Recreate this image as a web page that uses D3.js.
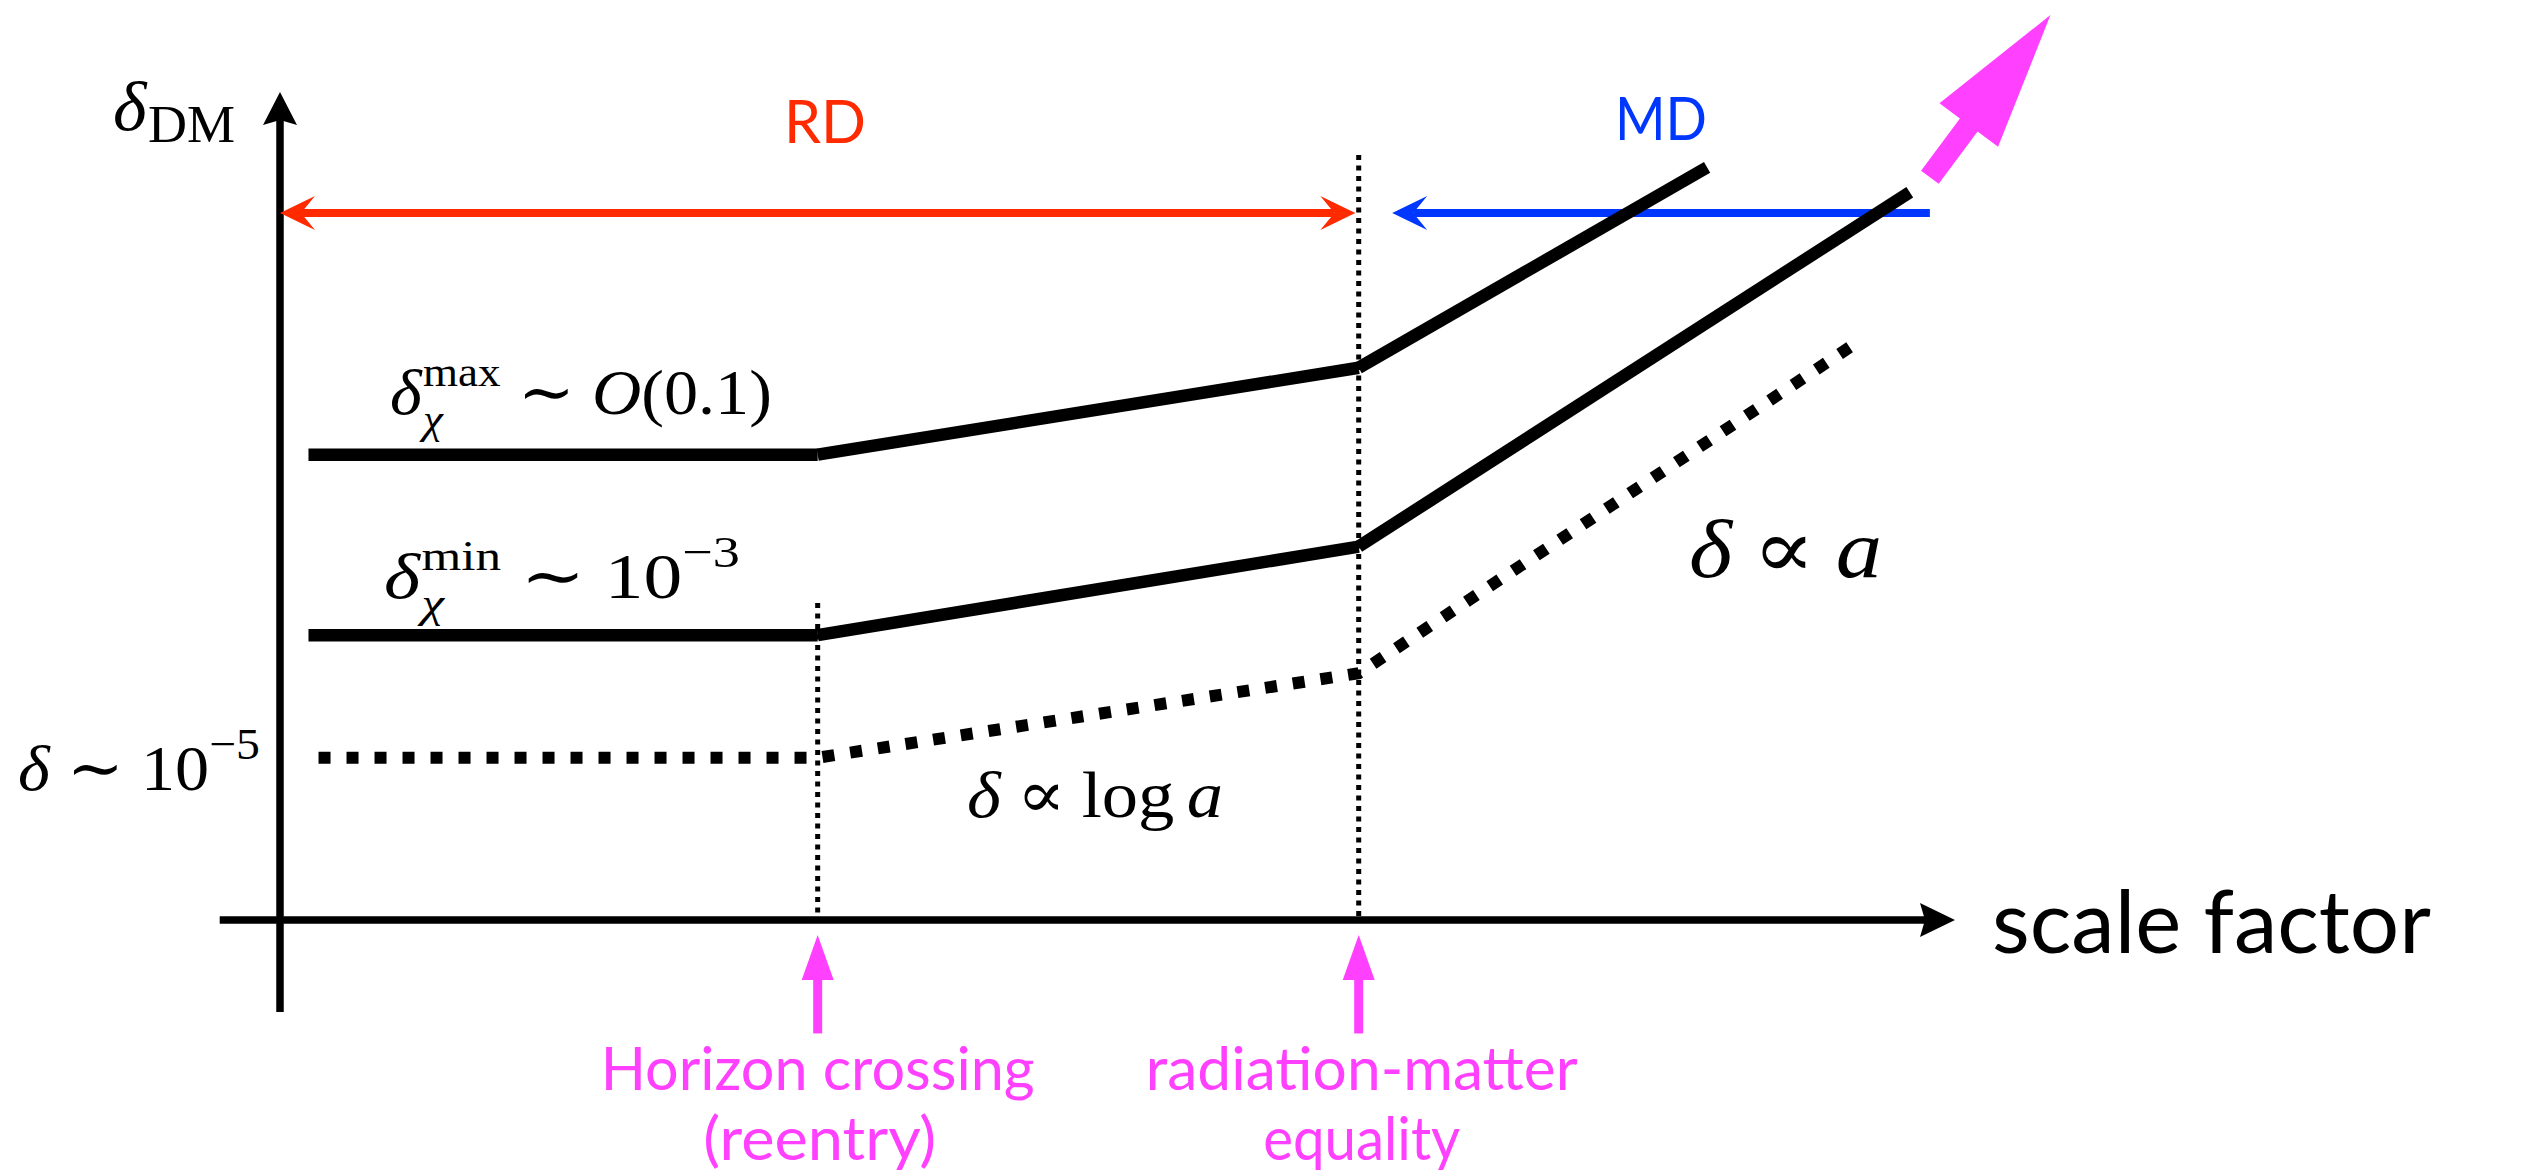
<!DOCTYPE html>
<html>
<head>
<meta charset="utf-8">
<script src="https://cdn.jsdelivr.net/npm/d3@7"></script>
<style>
  html, body { margin: 0; padding: 0; background: #fff; overflow: hidden; }
  text { font-kerning: normal; }
</style>
</head>
<body>
<svg id="chart" width="2531" height="1176"></svg>
<script>
// ---- data (schematic units: x = log scale factor, y = log density contrast) ----
const epochNames = ["Horizon crossing", "radiation-matter equality"];
const epochX = [3.21, 6.44];
const epochTop = [3.83, 9.24];

const maxTrackX = [0.17, 3.21, 6.44, 8.52];
const maxTrackY = [5.62, 5.62, 6.67, 9.09];
const minTrackX = [0.17, 3.21, 6.44, 9.73];
const minTrackY = [3.44, 3.44, 4.51, 8.79];
const adiTrackX = [0.23, 3.21, 6.44, 9.44];
const adiTrackY = [1.96, 1.96, 2.98, 7.01];

const eraNames = ["RD", "MD"];
const eraLevel = 8.54;
const rdSpan = [0, 6.42];     // double-headed
const mdSpan = [9.85, 6.64];  // tail -> head

const xAxisSpan = [-0.36, 10];
const yAxisSpan = [-1.11, 10];

const growthTail = [9.85, 8.97];
const growthTip = [10.57, 10.93];
const pointerSpan = [-1.37, -0.18]; // tail -> tip, at each epoch

// ---- colours ----
const RED = "#ff2a00", BLUE = "#0037ff", PINK = "#ff40ff", INK = "#000";

const svg = d3.select("#chart");
const x = d3.scaleLinear().domain([0, 10]).range([280, 1955]);
const y = d3.scaleLinear().domain([0, 10]).range([920, 92]);

svg.append("rect").attr("width", 2531).attr("height", 1176).attr("fill", "#fff");

// stealth arrow head, tip at (tx,ty), pointing along ang
function head(tx, ty, ang, len, half, inset) {
  const ux = Math.cos(ang), uy = Math.sin(ang);
  const px = -uy, py = ux;
  const bx = tx - ux * len, by = ty - uy * len;
  const nx = tx - ux * (len - inset), ny = ty - uy * (len - inset);
  return `M${tx},${ty}L${bx + px * half},${by + py * half}L${nx},${ny}L${bx - px * half},${by - py * half}Z`;
}
function arrowLine(g, x0, y0, x1, y1, color, width, len, half, inset, both) {
  const ang = Math.atan2(y1 - y0, x1 - x0);
  const L = Math.hypot(x1 - x0, y1 - y0);
  const ux = (x1 - x0) / L, uy = (y1 - y0) / L;
  const back = len - inset;
  const sx = both ? x0 + ux * back : x0, sy = both ? y0 + uy * back : y0;
  g.append("line").attr("x1", sx).attr("y1", sy)
    .attr("x2", x1 - ux * back).attr("y2", y1 - uy * back)
    .attr("stroke", color).attr("stroke-width", width);
  g.append("path").attr("d", head(x1, y1, ang, len, half, inset)).attr("fill", color);
  if (both) g.append("path").attr("d", head(x0, y0, ang + Math.PI, len, half, inset)).attr("fill", color);
}

// ---- axes ----
const axes = svg.append("g");
arrowLine(axes, x(xAxisSpan[0]), y(0), x(xAxisSpan[1]), y(0), INK, 7.5, 35, 17, 5, false);
arrowLine(axes, x(0), y(yAxisSpan[0]), x(0), y(yAxisSpan[1]), INK, 7.5, 33, 17, 5, false);

// ---- epoch markers (thin dotted verticals) ----
epochX.forEach((ex, i) => {
  svg.append("line")
    .attr("x1", x(ex)).attr("x2", x(ex))
    .attr("y1", y(epochTop[i])).attr("y2", y(0))
    .attr("stroke", INK).attr("stroke-width", 5)
    .attr("stroke-dasharray", "5,5.5");
});

// ---- era arrows ----
const eras = svg.append("g");
arrowLine(eras, x(rdSpan[0]), y(eraLevel), x(rdSpan[1]), y(eraLevel), RED, 8, 35, 17, 14, true);
arrowLine(eras, x(mdSpan[0]), y(eraLevel), x(mdSpan[1]), y(eraLevel), BLUE, 8, 35, 17, 14, false);

// ---- growth tracks (segment by segment, butt ends) ----
function track(xs, ys, dashed) {
  const pts = xs.map((v, i) => [x(v), y(ys[i])]);
  if (dashed) {
    svg.append("path").attr("d", d3.line()(pts))
      .attr("fill", "none").attr("stroke", INK).attr("stroke-width", 12)
      .attr("stroke-dasharray", "12,16").attr("stroke-linejoin", "miter");
    return;
  }
  for (let i = 0; i < pts.length - 1; i++) {
    svg.append("path").attr("d", d3.line()([pts[i], pts[i + 1]]))
      .attr("fill", "none").attr("stroke", INK).attr("stroke-width", 12.5)
      .attr("stroke-linecap", "butt");
  }
}
track(maxTrackX, maxTrackY, false);
track(minTrackX, minTrackY, false);
track(adiTrackX, adiTrackY, true);

// ---- growth arrow (block arrow) ----
(function () {
  const tx0 = x(growthTail[0]), ty0 = y(growthTail[1]);
  const tx1 = x(growthTip[0]), ty1 = y(growthTip[1]);
  const L = Math.hypot(tx1 - tx0, ty1 - ty0);
  const ux = (tx1 - tx0) / L, uy = (ty1 - ty0) / L, px = -uy, py = ux;
  const hl = 137, hw = 36.5, sw = 11;
  const bx = tx1 - ux * hl, by = ty1 - uy * hl;
  const p = [
    [tx0 + px * sw, ty0 + py * sw], [bx + px * sw, by + py * sw],
    [bx + px * hw, by + py * hw], [tx1, ty1],
    [bx - px * hw, by - py * hw], [bx - px * sw, by - py * sw],
    [tx0 - px * sw, ty0 - py * sw]
  ];
  svg.append("path").attr("d", "M" + p.map(q => q.join(",")).join("L") + "Z").attr("fill", PINK);
})();

// ---- epoch pointer arrows ----
epochX.forEach(ex => {
  arrowLine(svg, x(ex), y(pointerSpan[0]), x(ex), y(pointerSpan[1]), PINK, 9, 45, 16, 0, false);
});

// ---- sans labels ----
const SANS = "Lato, 'Open Sans', sans-serif";
function sans(txt, cx, base, size, color, width, anchor) {
  const t = svg.append("text").attr("x", cx).attr("y", base)
    .attr("font-family", SANS).attr("font-size", size).attr("fill", color)
    .attr("text-anchor", anchor || "middle").text(txt);
  if (width) t.attr("textLength", width).attr("lengthAdjust", "spacingAndGlyphs");
  return t;
}
sans(eraNames[0], 825, 143, 60, RED, 82);
sans(eraNames[1], 1661, 140, 60, BLUE, 92);
sans("scale factor", 1992, 953, 88, INK, 439, "start");
sans(epochNames[0], x(epochX[0]), 1090, 60, PINK, 434);
sans("(reentry)", x(epochX[0]) + 2, 1160, 60, PINK, 233);
sans("radiation-matter", x(epochX[1]) + 3, 1090, 60, PINK, 432);
sans("equality", x(epochX[1]) + 3, 1160, 60, PINK, 197);

// ---- math labels: one <text> per formula, pieces laid out as tspans ----
const SERIF = "'Liberation Serif', 'DejaVu Serif', serif";
function measure(q, sz) {
  const t = svg.append("text").attr("font-family", q.font || SERIF).attr("font-size", sz)
    .attr("font-style", q.it ? "italic" : "normal").text(q.t);
  const w = t.node().getComputedTextLength();
  t.remove();
  return w;
}
function math(x0, base, size, parts, target) {
  const runs = [];
  let cx = x0;
  const add = (q, yy, sz) => {
    runs.push({ q, x: cx, y: yy, sz });
    return measure(q, sz);
  };
  parts.forEach(p => {
    if (p.sp !== undefined) { cx += p.sp * size; return; }
    if (p.sup || p.sub) {
      let w = 0;
      if (p.sup) w = Math.max(w, add(p.sup, base - p.sup.shift * size, size * (p.sup.rel || 0.7)));
      if (p.sub) w = Math.max(w, add(p.sub, base + p.sub.shift * size, size * (p.sub.rel || 0.7)));
      cx += w; return;
    }
    cx += add(p, base + (p.shift || 0) * size, size * (p.rel || 1));
  });
  const w = cx - x0;
  const t = svg.append("text").attr("font-family", SERIF).attr("fill", INK);
  runs.forEach(r => {
    t.append("tspan").attr("x", r.x).attr("y", r.y).attr("font-size", r.sz)
      .attr("font-family", r.q.font || SERIF)
      .attr("font-style", r.q.it ? "italic" : "normal").text(r.q.t);
  });
  if (target) t.attr("transform", `translate(${x0},0) scale(${target / w},1) translate(${-x0},0)`);
}

const SYM = "'DejaVu Serif', serif";

math(113, 130, 70, [
  { t: "δ", it: true }, { sp: 0.02 },
  { t: "DM", rel: 0.75, shift: 0.17 }
], 122);

math(390, 414, 64, [
  { t: "δ", it: true }, { sp: 0.02 },
  { sup: { t: "max", shift: 0.44, rel: 0.66 }, sub: { t: "χ", it: true, shift: 0.3, rel: 0.66 } },
  { sp: 0.25 }, { t: "∼" }, { sp: 0.25 },
  { t: "O", it: true }, { t: "(0.1)" }
], 382);

math(384, 598, 64, [
  { t: "δ", it: true }, { sp: 0.02 },
  { sup: { t: "min", shift: 0.44, rel: 0.66 }, sub: { t: "χ", it: true, shift: 0.3, rel: 0.66 } },
  { sp: 0.25 }, { t: "∼" }, { sp: 0.25 },
  { t: "10" }, { sup: { t: "−3", shift: 0.48 } }
], 356);

math(18, 790, 64, [
  { t: "δ", it: true }, { sp: 0.25 }, { t: "∼" }, { sp: 0.25 },
  { t: "10" }, { sup: { t: "−5", shift: 0.48 } }
], 242);

math(967, 817, 66, [
  { t: "δ", it: true }, { sp: 0.22 }, { t: "∝", font: SYM }, { sp: 0.22 },
  { t: "log" }, { sp: 0.17 }, { t: "a", it: true }
], 256);

math(1689, 577, 82, [
  { t: "δ", it: true }, { sp: 0.22 }, { t: "∝", font: SYM }, { sp: 0.22 },
  { t: "a", it: true }
], 193);
</script>
</body>
</html>
